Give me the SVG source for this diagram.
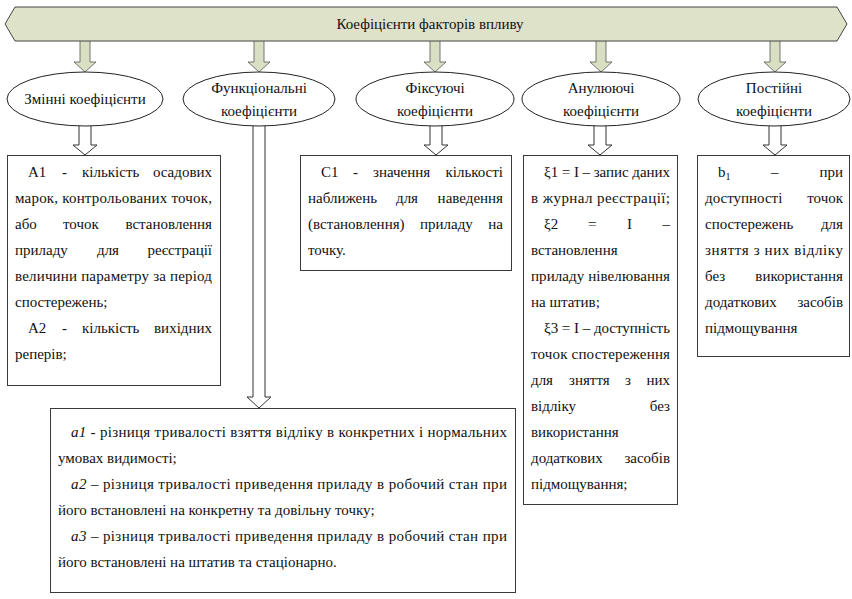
<svg xmlns="http://www.w3.org/2000/svg" width="852" height="599" viewBox="0 0 852 599">
<style>
text{font-family:"Liberation Serif","Times New Roman",serif;font-size:15px;fill:#111}
.box{fill:#fff;stroke:#3a3a3a;stroke-width:1}
.ell{fill:#fff;stroke:#222;stroke-width:1}
.garrow{fill:#d9dfc3;stroke:#555;stroke-width:0.8}
.harrow{fill:#fff;stroke:#333;stroke-width:1}
.c{text-anchor:middle}
.e{text-anchor:end}
.i{font-style:italic}
</style>
<rect width="852" height="599" fill="#fff"/>
<g id="connectors">
<polygon class="garrow" points="80,38 90,38 90,62 96,62 85,72 74,62 80,62"/>
<polygon class="garrow" points="254,38 264,38 264,62 270,62 259,72 248,62 254,62"/>
<polygon class="garrow" points="430,38 440,38 440,62 446,62 435,72 424,62 430,62"/>
<polygon class="garrow" points="596,38 606,38 606,62 612,62 601,72 590,62 596,62"/>
<polygon class="garrow" points="770,38 780,38 780,62 786,62 775,72 764,62 770,62"/>
<polygon class="harrow" points="79,120 91,120 91,145 97,145 85,155 73,145 79,145"/>
<polygon class="harrow" points="430,120 442,120 442,145 448,145 436,155 424,145 430,145"/>
<polygon class="harrow" points="594,120 606,120 606,145 612,145 600,155 588,145 594,145"/>
<polygon class="harrow" points="769,120 781,120 781,145 787,145 775,155 763,145 769,145"/>
<polygon class="harrow" points="253,120 265,120 265,397 271,397 259,408 247,397 253,397"/>
</g>
<g id="banner">
<polygon points="5,24 15,7 837,7 847,24 837,41 15,41" fill="#dde2c9" stroke="#444" stroke-width="1"/>
<text x="430" y="29" class="c">Коефіцієнти факторів впливу</text>
</g>
<g id="ell-zminni">
<ellipse class="ell" cx="85" cy="99" rx="78" ry="27"/>
<text x="85" y="104" class="c">Змінні коефіцієнти</text>
</g>
<g id="ell-funktsionalni">
<ellipse class="ell" cx="259" cy="99" rx="76" ry="27"/>
<text x="259" y="93" class="c">Функціональні</text>
<text x="259" y="116" class="c">коефіцієнти</text>
</g>
<g id="ell-fiksuiuchi">
<ellipse class="ell" cx="435" cy="99" rx="79" ry="27"/>
<text x="435" y="93" class="c">Фіксуючі</text>
<text x="435" y="116" class="c">коефіцієнти</text>
</g>
<g id="ell-anuliuiuchi">
<ellipse class="ell" cx="601" cy="99" rx="79" ry="27"/>
<text x="601" y="93" class="c">Анулюючі</text>
<text x="601" y="116" class="c">коефіцієнти</text>
</g>
<g id="ell-postiini">
<ellipse class="ell" cx="774" cy="99" rx="76" ry="27"/>
<text x="774" y="93" class="c">Постійні</text>
<text x="774" y="116" class="c">коефіцієнти</text>
</g>
<g id="box-a">
<rect class="box" x="7.5" y="155.5" width="213" height="230"/>
<text x="28" y="177">А1</text><text x="62" y="177">-</text><text x="82" y="177">кількість</text><text x="212" y="177" class="e">осадових</text>
<text x="15" y="203" textLength="197" lengthAdjust="spacing">марок, контрольованих точок,</text>
<text x="15" y="229">або</text><text x="63" y="229">точок</text><text x="212" y="229" class="e">встановлення</text>
<text x="15" y="255">приладу</text><text x="97" y="255">для</text><text x="212" y="255" class="e">реєстрації</text>
<text x="15" y="281" textLength="197" lengthAdjust="spacing">величини параметру за період</text>
<text x="15" y="307">спостережень;</text>
<text x="28" y="333">А2</text><text x="62" y="333">-</text><text x="82" y="333">кількість</text><text x="212" y="333" class="e">вихідних</text>
<text x="15" y="359">реперів;</text>
</g>
<g id="box-c">
<rect class="box" x="300.5" y="155.5" width="211" height="115"/>
<text x="321" y="177">С1</text><text x="353" y="177">-</text><text x="373" y="177">значення</text><text x="503" y="177" class="e">кількості</text>
<text x="308" y="203">наближень</text><text x="396" y="203">для</text><text x="503" y="203" class="e">наведення</text>
<text x="308" y="229">(встановлення)</text><text x="420" y="229">приладу</text><text x="503" y="229" class="e">на</text>
<text x="308" y="255">точку.</text>
</g>
<g id="box-xi">
<rect class="box" x="523.5" y="155.5" width="154" height="349"/>
<text x="544" y="177" textLength="126" lengthAdjust="spacing">ξ1 = I – запис даних</text>
<text x="531" y="203" textLength="139" lengthAdjust="spacing">в журнал реєстрації;</text>
<text x="544" y="229">ξ2</text><text x="588" y="229">=</text><text x="627" y="229">I</text><text x="670" y="229" class="e">–</text>
<text x="531" y="255">встановлення</text>
<text x="531" y="281" textLength="139" lengthAdjust="spacing">приладу нівелювання</text>
<text x="531" y="307">на штатив;</text>
<text x="544" y="333" textLength="126" lengthAdjust="spacing">ξ3 = I – доступність</text>
<text x="531" y="359" textLength="139" lengthAdjust="spacing">точок спостереження</text>
<text x="531" y="385">для</text><text x="569" y="385">зняття</text><text x="625" y="385">з</text><text x="670" y="385" class="e">них</text>
<text x="531" y="411">відліку</text><text x="670" y="411" class="e">без</text>
<text x="531" y="437">використання</text>
<text x="531" y="463">додаткових</text><text x="670" y="463" class="e">засобів</text>
<text x="531" y="489">підмощування;</text>
</g>
<g id="box-b">
<rect class="box" x="697.5" y="155.5" width="152" height="201"/>
<text x="718" y="177">b<tspan font-size="10" dy="3">1</tspan></text><text x="771" y="177">–</text><text x="843" y="177" class="e">при</text>
<text x="705" y="203">доступності</text><text x="843" y="203" class="e">точок</text>
<text x="705" y="229">спостережень</text><text x="843" y="229" class="e">для</text>
<text x="705" y="255" textLength="138" lengthAdjust="spacing">зняття з них відліку</text>
<text x="705" y="281">без</text><text x="843" y="281" class="e">використання</text>
<text x="705" y="307">додаткових</text><text x="843" y="307" class="e">засобів</text>
<text x="705" y="333">підмощування</text>
</g>
<g id="box-func">
<rect class="box" x="50.5" y="408.5" width="465" height="184"/>
<text x="71" y="437" textLength="436" lengthAdjust="spacing"><tspan class="i">a1</tspan> - різниця тривалості взяття відліку в конкретних і нормальних</text>
<text x="58" y="463">умовах видимості;</text>
<text x="71" y="489" textLength="436" lengthAdjust="spacing"><tspan class="i">a2</tspan> – різниця тривалості приведення приладу в робочий стан при</text>
<text x="58" y="515">його встановлені на конкретну та довільну точку;</text>
<text x="71" y="541" textLength="436" lengthAdjust="spacing"><tspan class="i">a3</tspan> – різниця тривалості приведення приладу в робочий стан при</text>
<text x="58" y="567">його встановлені на штатив та стаціонарно.</text>
</g>
</svg>
